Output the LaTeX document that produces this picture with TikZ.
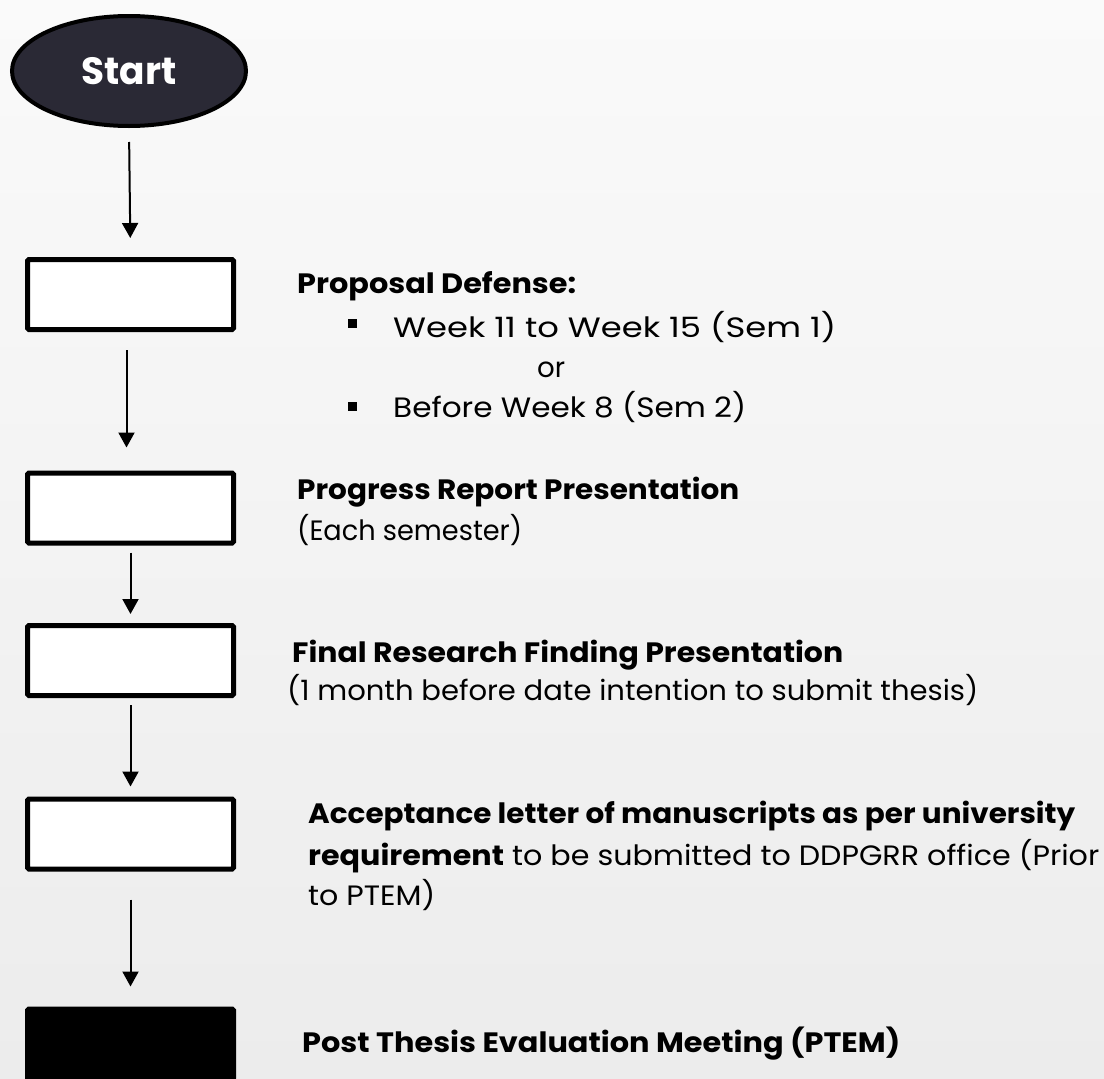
\documentclass[tikz,border=0pt]{standalone}
\usepackage{fontspec}
\setmainfont{Poppins}
\usepackage{graphicx}
\usetikzlibrary{arrows.meta,shapes.geometric}
\definecolor{bgtop}{RGB}{250,250,250}
\definecolor{bgbot}{RGB}{236,236,236}
\definecolor{startfill}{RGB}{42,41,53}
\newcommand\fitto[2]{\resizebox{#1pt}{\height}{#2}}
\begin{document}
\begin{tikzpicture}[x=1pt,y=-1pt,
  box/.style={draw=black,line width=5pt,rounded corners=1.5pt,fill=white,minimum width=206pt,minimum height=70pt,inner sep=0pt},
  arr/.style={line width=2pt,-{Triangle[width=16pt,length=15pt]}},
  txt/.style={anchor=base west,inner sep=0pt,font=\fontsize{28}{34}\selectfont},
  btxt/.style={anchor=base west,inner sep=0pt,font=\fontsize{28}{34}\selectfont\bfseries},
  bullet/.style={fill=black,inner sep=0pt,minimum size=9pt},
  startnode/.style={ellipse,draw=black,line width=4pt,fill=startfill,minimum width=234pt,minimum height=110pt,inner sep=0pt,text=white,font=\fontsize{38}{44}\selectfont\bfseries}]
\useasboundingbox (0,0) rectangle (1104,1079);
\clip (0,0) rectangle (1104,1079);
\fill[top color=bgtop,bottom color=bgbot] (0,0) rectangle (1104,1079);

\node[startnode] (start) at (129,71) {\fitto{95}{Start}};
\node[box] (b1) at (130.5,294.5) {};
\node[box] (b2) at (130.5,508) {};
\node[box] (b3) at (130.5,660.5) {};
\node[box] (b4) at (130.5,834) {};
\node[box,fill=black] (b5) at (130.5,1044) {};

\draw[arr,shorten <=14pt,shorten >=19pt] (start.south) -- (b1.north);
\draw[arr,shorten <=18pt,shorten >=23pt] ([xshift=-4pt]b1.south) -- ([xshift=-4pt]b2.north);
\draw[arr,shorten <=7pt,shorten >=9pt] (b2.south) -- (b3.north);
\draw[arr,shorten <=7pt,shorten >=10pt] (b3.south) -- (b4.north);
\draw[arr,shorten <=28pt,shorten >=20pt] (b4.south) -- (b5.north);

\node[btxt] (t1) at (297,293) {\fitto{279}{Proposal Defense:}};
\node[bullet] (bu1) at (352,323) {};
\node[txt] (t2) at (393,337) {\fitto{443}{Week 11 to Week 15 (Sem 1)}};
\node[txt] (t3) at (537,377) {\fitto{28}{or}};
\node[bullet] (bu2) at (352,406) {};
\node[txt] (t4) at (393,417) {\fitto{353}{Before Week 8 (Sem 2)}};

\node[btxt] (t5) at (297,499) {\fitto{442}{Progress Report Presentation}};
\node[txt] (t6) at (297,540) {\fitto{225}{(Each semester)}};

\node[btxt] (t7) at (292,662) {\fitto{551}{Final Research Finding Presentation}};
\node[txt] (t8) at (287,700) {\fitto{691}{(1 month before date intention to submit thesis)}};

\node[btxt] (t9) at (308,823) {\fitto{767}{Acceptance letter of manuscripts as per university}};
\node[txt] (t10) at (308,865) {\fitto{791}{{\bfseries requirement} to be submitted to DDPGRR office (Prior}};
\node[txt] (t11) at (308,905) {\fitto{127}{to PTEM)}};

\node[btxt] (t12) at (302,1052) {\fitto{598}{Post Thesis Evaluation Meeting (PTEM)}};
\end{tikzpicture}
\end{document}
